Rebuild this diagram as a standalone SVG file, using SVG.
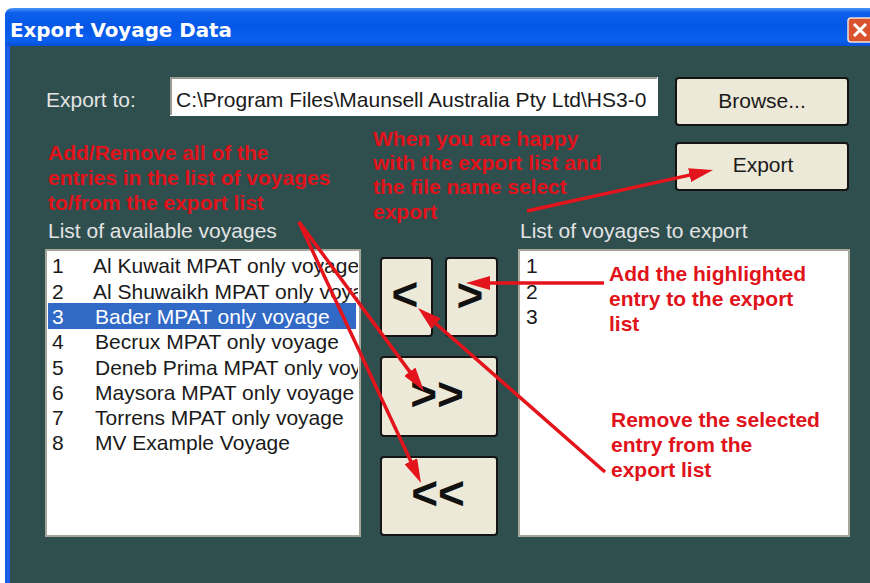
<svg xmlns="http://www.w3.org/2000/svg" width="870" height="583" viewBox="0 0 870 583">
<style>
.ui{font-family:"Liberation Sans",Arial,sans-serif;font-size:21px}
.lbl{fill:#e4e4e4}
.dark{fill:#1a1a1a}
.note{font-family:"Liberation Sans",Arial,sans-serif;font-size:21px;font-weight:bold;fill:#e0121a}
.btn{fill:#ece9d8;stroke:#141414;stroke-width:2}
.glyph{font-family:"Liberation Sans",Arial,sans-serif;font-weight:bold;fill:#111;text-anchor:middle}
.arrow{stroke:#e3141c;stroke-width:3.5;fill:none;marker-end:url(#head)}
.box{fill:#ffffff;stroke:#a7a69a;stroke-width:2}
</style>
<defs>
<linearGradient id="tb" x1="0" y1="0" x2="0" y2="1">
<stop offset="0" stop-color="#4a95fa"/>
<stop offset="0.12" stop-color="#0d60ea"/>
<stop offset="0.5" stop-color="#0457e6"/>
<stop offset="0.85" stop-color="#0a60ee"/>
<stop offset="1" stop-color="#0750d6"/>
</linearGradient>
<marker id="head" markerUnits="userSpaceOnUse" markerWidth="24" markerHeight="14" refX="8" refY="7" orient="auto">
<path d="M0,0 L24,7 L0,14 z" fill="#e3141c"/>
</marker>
<clipPath id="lc"><rect x="48" y="251" width="310" height="283"/></clipPath>
</defs>
<rect x="0" y="0" width="870" height="583" fill="#ffffff"/>
<g id="window">
<path d="M5,16 Q5,8 13,8 L870,8 L870,46 L5,46 z" fill="url(#tb)"/>
<rect x="5" y="46" width="5" height="537" fill="#1a5ee8"/>
<rect x="10" y="46" width="860" height="537" fill="#2f4f4f"/>
<text x="10" y="37" font-family="'DejaVu Sans',sans-serif" font-size="19" font-weight="bold" fill="#ffffff" textLength="222" lengthAdjust="spacingAndGlyphs">Export Voyage Data</text>
<g id="close">
<rect x="848" y="18" width="26" height="24" rx="3" fill="#d9532e" stroke="#f4e0d8" stroke-width="1.5"/>
<path d="M854,24 L866,36 M866,24 L854,36" stroke="#ffffff" stroke-width="3"/>
</g>
</g>
<g id="export-to">
<text class="ui lbl" x="46" y="107">Export to:</text>
<rect x="170" y="77" width="488" height="39" fill="#ffffff"/>
<path d="M171,115 L171,78 L657,78" stroke="#9a9a90" stroke-width="2" fill="none"/>
<text class="ui dark" x="176" y="107">C:\Program Files\Maunsell Australia Pty Ltd\HS3-0</text>
</g>
<g id="browse">
<rect class="btn" x="676" y="78" width="172" height="47" rx="3"/>
<text class="ui dark" x="762" y="108" text-anchor="middle">Browse...</text>
</g>
<g id="export">
<rect class="btn" x="676" y="143" width="172" height="47" rx="3"/>
<text class="ui dark" x="763" y="172" text-anchor="middle">Export</text>
</g>
<g id="available">
<text class="ui lbl" x="48" y="238">List of available voyages</text>
<rect class="box" x="46" y="250" width="314" height="286"/>
<rect x="48" y="303" width="308" height="26" fill="#3169c6"/>
<g clip-path="url(#lc)" class="ui">
<text class="dark" x="52" y="273">1</text><text class="dark" x="93" y="273">Al Kuwait MPAT only voyage</text>
<text class="dark" x="52" y="299">2</text><text class="dark" x="93" y="299">Al Shuwaikh MPAT only voyage</text>
<text fill="#ffffff" x="52" y="324">3</text><text fill="#ffffff" x="95" y="324">Bader MPAT only voyage</text>
<text class="dark" x="52" y="349">4</text><text class="dark" x="95" y="349">Becrux MPAT only voyage</text>
<text class="dark" x="52" y="375">5</text><text class="dark" x="95" y="375">Deneb Prima MPAT only voyage</text>
<text class="dark" x="52" y="400">6</text><text class="dark" x="95" y="400">Maysora MPAT only voyage</text>
<text class="dark" x="52" y="425">7</text><text class="dark" x="95" y="425">Torrens MPAT only voyage</text>
<text class="dark" x="52" y="450">8</text><text class="dark" x="95" y="450">MV Example Voyage</text>
</g>
</g>
<g id="to-export">
<text class="ui lbl" x="520" y="238">List of voyages to export</text>
<rect class="box" x="519" y="250" width="330" height="286"/>
<text class="ui dark" x="526" y="273">1</text>
<text class="ui dark" x="526" y="299">2</text>
<text class="ui dark" x="526" y="324">3</text>
</g>
<g id="btn-remove">
<rect class="btn" x="381" y="258" width="51" height="78" rx="3"/>
<text class="glyph" x="405" y="310" font-size="46">&lt;</text>
</g>
<g id="btn-add">
<rect class="btn" x="446" y="258" width="51" height="78" rx="3" stroke-width="3.5"/>
<text class="glyph" x="470" y="311" font-size="46">&gt;</text>
</g>
<g id="btn-addall">
<rect class="btn" x="381" y="357" width="116" height="79" rx="3"/>
<text class="glyph" x="437" y="410" font-size="46">&gt;&gt;</text>
</g>
<g id="btn-removeall">
<rect class="btn" x="381" y="457" width="116" height="78" rx="3"/>
<text class="glyph" x="438" y="509" font-size="46">&lt;&lt;</text>
</g>
<g id="notes">
<text class="note" x="48" y="160">Add/Remove all of the</text>
<text class="note" x="48" y="185">entries in the list of voyages</text>
<text class="note" x="48" y="210">to/from the export list</text>
<text class="note" x="373" y="146">When you are happy</text>
<text class="note" x="373" y="170">with the export list and</text>
<text class="note" x="373" y="194">the file name select</text>
<text class="note" x="373" y="219">export</text>
<text class="note" x="609" y="281">Add the highlighted</text>
<text class="note" x="609" y="306">entry to the export</text>
<text class="note" x="609" y="331">list</text>
<text class="note" x="611" y="427">Remove the selected</text>
<text class="note" x="611" y="452">entry from the</text>
<text class="note" x="611" y="477">export list</text>
</g>
<g id="connectors">
<path class="arrow" d="M527,211 L697.4,173.4"/>
<path class="arrow" d="M604,283 L482,283"/>
<path class="arrow" d="M605,472 L430,318.5"/>
<path class="arrow" d="M299,222 L414.5,378.1"/>
<path class="arrow" d="M299,222 L414.2,468.5"/>
</g>
</svg>
